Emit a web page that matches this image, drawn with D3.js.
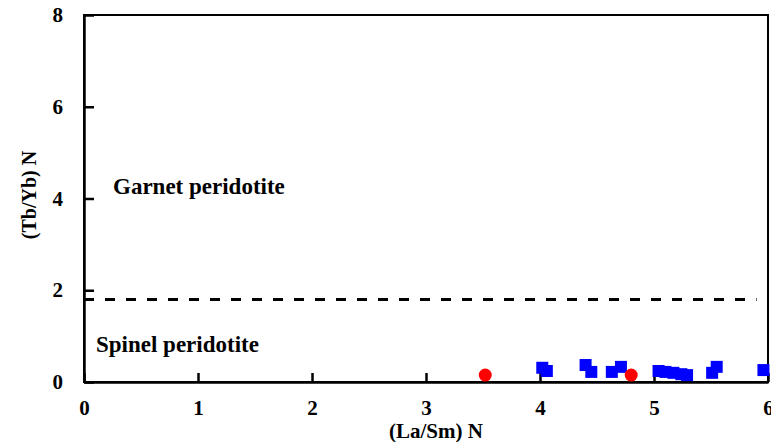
<!DOCTYPE html>
<html>
<head>
<meta charset="utf-8">
<script src="https://cdn.jsdelivr.net/npm/d3@7"></script>
<style>
  html, body { margin: 0; padding: 0; background: #fff; }
  svg { display: block; }
  svg text { font-family: "Liberation Serif", "DejaVu Serif", "Times New Roman", Times, serif !important; font-weight: bold; fill: #000; }
</style>
</head>
<body>
<svg id="chart" width="771" height="442"></svg>
<script>
// ---- data ----
const blueX = [4.02, 4.06, 4.40, 4.45, 4.63, 4.71, 5.04, 5.10, 5.17, 5.24, 5.29, 5.51, 5.55, 5.96];
const blueY = [0.31, 0.24, 0.37, 0.22, 0.22, 0.33, 0.24, 0.22, 0.20, 0.17, 0.15, 0.20, 0.33, 0.26];
const redX = [3.52, 4.80];
const redY = [0.15, 0.15];
const xTicks = [0, 1, 2, 3, 4, 5, 6];
const yTicks = [0, 2, 4, 6, 8];
const boundaryY = 1.8;
const boundaryXEnd = 5.9;
const xTitle = "(La/Sm) N";
const yTitle = "(Tb/Yb) N";
const labelGarnet = "Garnet peridotite";
const labelSpinel = "Spinel peridotite";

// ---- layout ----
const FONT = "'Liberation Serif', 'DejaVu Serif', serif";
const svg = d3.select("#chart");
const mLeft = 84, mRight = 768, mTop = 15, mBottom = 382;
const x = d3.scaleLinear().domain([0, 6]).range([mLeft, mRight]);
const y = d3.scaleLinear().domain([0, 8]).range([mBottom, mTop]);

// frame
svg.append("rect")
  .attr("x", mLeft).attr("y", mTop)
  .attr("width", mRight - mLeft).attr("height", mBottom - mTop)
  .attr("fill", "none").attr("stroke", "#000").attr("stroke-width", 2);

// x axis
const gx = svg.append("g").attr("transform", `translate(0,${mBottom})`)
  .call(d3.axisBottom(x).tickValues(xTicks).tickFormat(d3.format("d"))
    .tickSizeInner(-9).tickSizeOuter(0).tickPadding(18));
gx.attr("font-family", FONT).attr("font-size", 21).attr("font-weight", "bold");
gx.select(".domain").attr("stroke", "#000").attr("stroke-width", 2.5);
gx.selectAll(".tick line").attr("stroke", "#000").attr("stroke-width", 2.5);

// y axis
const gy = svg.append("g").attr("transform", `translate(${mLeft},0)`)
  .call(d3.axisLeft(y).tickValues(yTicks).tickFormat(d3.format("d"))
    .tickSizeInner(-10).tickSizeOuter(0).tickPadding(21));
gy.attr("font-family", FONT).attr("font-size", 21).attr("font-weight", "bold");
gy.select(".domain").attr("stroke", "#000").attr("stroke-width", 2.5);
gy.selectAll(".tick line").attr("stroke", "#000").attr("stroke-width", 2.5);

// boundary dashed line
svg.append("line")
  .attr("x1", x(0)).attr("x2", x(boundaryXEnd))
  .attr("y1", y(boundaryY)).attr("y2", y(boundaryY))
  .attr("stroke", "#000").attr("stroke-width", 3)
  .attr("stroke-dasharray", "10,11");

// annotations
svg.append("text").attr("x", 113).attr("y", 194)
  .attr("font-family", FONT).attr("font-size", 23).text(labelGarnet);
svg.append("text").attr("x", 96).attr("y", 352)
  .attr("font-family", FONT).attr("font-size", 23).text(labelSpinel);

// axis titles
svg.append("text").attr("x", 436).attr("y", 438)
  .attr("text-anchor", "middle").attr("font-family", FONT).attr("font-size", 21).text(xTitle);
svg.append("text")
  .attr("transform", `translate(36,195) rotate(-90)`)
  .attr("text-anchor", "middle").attr("font-family", FONT).attr("font-size", 20).text(yTitle);

// points
const blue = blueX.map((d, i) => ({ x: d, y: blueY[i] }));
const red = redX.map((d, i) => ({ x: d, y: redY[i] }));
const sq = 12;
svg.append("g").selectAll("rect").data(blue).join("rect")
  .attr("x", d => x(d.x) - sq / 2).attr("y", d => y(d.y) - sq / 2)
  .attr("width", sq).attr("height", sq)
  .attr("fill", "#0000ff");
svg.append("g").selectAll("circle").data(red).join("circle")
  .attr("cx", d => x(d.x)).attr("cy", d => y(d.y))
  .attr("r", 6.5).attr("fill", "#ff0000");
</script>
</body>
</html>
